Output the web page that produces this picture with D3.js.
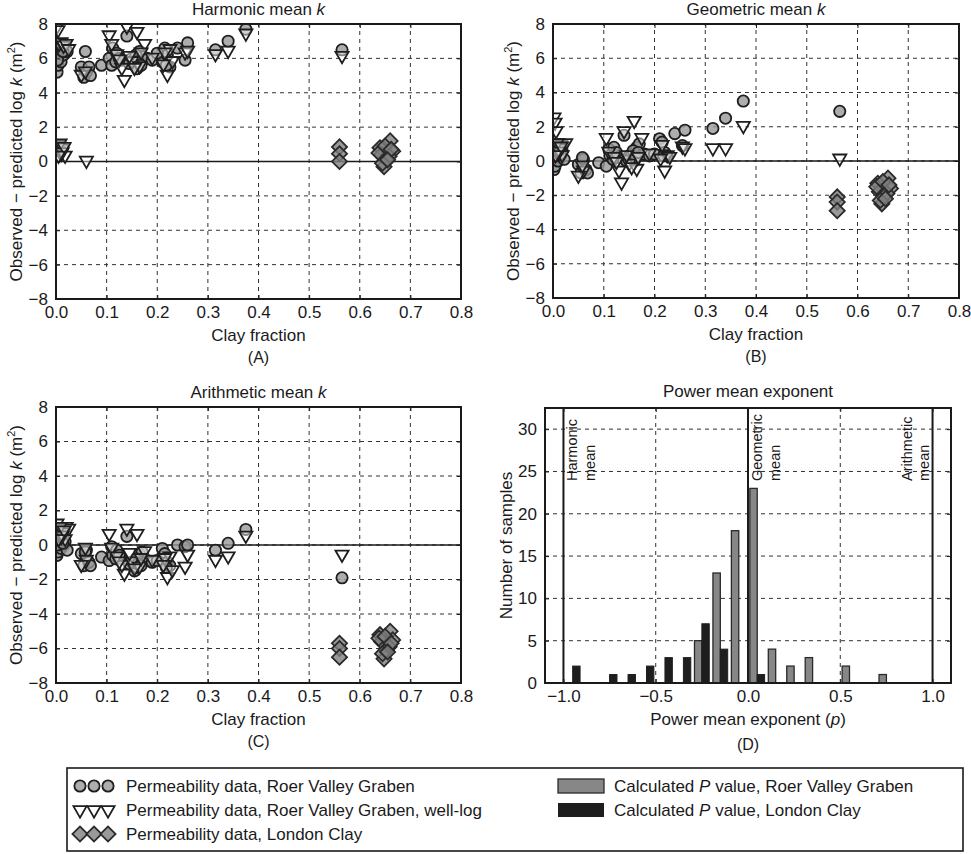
<!DOCTYPE html>
<html><head><meta charset="utf-8">
<script src="https://cdn.jsdelivr.net/npm/d3@7"></script>
<style>
body{margin:0;background:#fff}
svg{display:block}
text{font-family:"Liberation Sans",Arial,Helvetica,sans-serif;fill:#1a1a1a}
</style>
</head><body>
<svg id="c" width="971" height="854"></svg>
<script>
// ---------------- DATA ----------------
// Roer Valley Graben (lab) – circles
const circleClay       = [0.002,0.004,0.006,0.008,0.010,0.012,0.015,0.018,0.022,0.005,0.050,0.055,0.060,0.065,0.068,0.058,0.090,0.105,0.110,0.112,0.120,0.140,0.130,0.150,0.155,0.165,0.170,0.160,0.180,0.190,0.210,0.215,0.220,0.225,0.240,0.255,0.260,0.315,0.340,0.375,0.565,0.003,0.014,0.118,0.125,0.145,0.158,0.162,0.168,0.200,0.218];
const circleHarmonic   = [5.2,5.6,6.0,6.3,5.8,6.5,6.2,6.6,6.4,6.7,5.5,4.9,5.2,5.5,5.0,6.4,5.6,6.0,5.6,6.6,6.3,7.3,5.9,6.0,5.6,6.4,6.1,5.4,6.0,5.9,5.8,6.6,6.2,5.5,6.6,5.9,6.9,6.5,7.0,7.7,6.5,5.9,6.4,5.8,6.0,5.7,6.2,5.8,5.6,6.3,5.6];
const circleGeometric  = [-0.5,-0.3,0.2,0.5,0.0,0.7,0.3,0.6,0.1,0.8,-0.2,-0.7,0.1,-0.5,-0.7,0.2,-0.1,-0.3,0.7,0.3,0.8,1.5,0.2,0.3,0.4,0.8,1.0,0.0,0.4,0.3,1.3,1.1,0.5,0.3,1.6,0.9,1.8,1.9,2.5,3.5,2.9,0.3,0.4,0.1,0.5,0.0,0.6,0.2,0.5,0.4,0.3];
const circleArithmetic = [-0.6,-0.4,0.1,0.3,-0.2,0.5,0.0,0.2,-0.3,0.6,-0.5,-1.2,-0.3,-1.0,-1.2,-0.4,-0.7,-0.9,-0.1,-0.6,-0.3,0.5,-0.8,-1.0,-1.5,-0.5,-0.4,-1.3,-0.9,-1.0,-0.2,-0.5,-1.0,-1.2,0.0,-0.1,0.0,-0.3,0.1,0.9,-1.9,0.0,0.1,-0.8,-0.6,-1.1,-0.8,-1.1,-1.2,-0.9,-1.3];

// Roer Valley Graben (well-log) – down triangles
const triClay       = [0.002,0.004,0.006,0.010,0.015,0.020,0.025,0.003,0.006,0.010,0.013,0.018,0.008,0.060,0.050,0.058,0.105,0.110,0.140,0.135,0.130,0.160,0.175,0.150,0.165,0.120,0.190,0.220,0.225,0.230,0.215,0.255,0.260,0.315,0.340,0.375,0.565,0.012,0.016,0.005,0.145,0.155,0.168,0.125,0.212];
const triHarmonic   = [7.8,7.6,6.8,6.9,6.7,6.8,6.5,0.9,0.6,0.4,0.7,0.3,1.0,0.0,5.0,5.2,7.3,6.8,7.8,4.7,5.4,7.5,6.8,5.8,5.5,6.2,6.0,5.0,6.5,5.8,6.3,6.3,6.4,6.2,6.4,7.4,6.1,0.5,0.8,0.3,6.1,5.4,6.3,5.9,5.6];
const triGeometric  = [2.5,2.2,1.7,1.0,0.9,0.8,1.0,0.9,0.6,0.4,0.7,0.3,1.0,-0.6,-0.9,-0.3,1.3,0.5,1.7,-1.3,-0.6,2.3,1.3,-0.2,-0.5,0.2,0.4,-0.6,0.3,0.2,0.9,0.8,0.7,0.7,0.7,2.0,0.1,0.5,0.8,0.3,0.3,-0.4,0.2,-0.1,0.1];
const triArithmetic = [1.2,1.0,0.8,0.9,0.6,1.0,0.9,0.9,0.6,0.4,0.7,0.3,1.0,-0.9,-1.2,-0.2,0.6,-0.2,0.9,-1.7,-1.2,0.6,-0.4,-1.0,-1.3,-0.7,-0.9,-1.9,-0.7,-1.5,-0.8,-1.3,-0.6,-0.9,-0.7,0.5,-0.6,0.5,0.8,0.3,-0.5,-1.4,-0.8,-1.0,-1.2];

// London Clay – diamonds
const diaClay       = [0.560,0.560,0.560,0.640,0.643,0.648,0.652,0.660,0.665,0.638,0.650,0.658,0.645,0.662,0.655];
const diaHarmonic   = [0.85,0.45,0.0,0.8,0.4,-0.3,0.2,1.2,0.6,0.5,0.9,0.3,-0.1,0.7,0.1];
const diaGeometric  = [-2.1,-2.4,-2.9,-1.3,-1.8,-2.5,-2.0,-1.0,-1.6,-1.5,-1.2,-1.9,-2.3,-1.4,-2.2];
const diaArithmetic = [-5.7,-6.0,-6.5,-5.2,-5.6,-6.6,-6.1,-5.0,-5.5,-5.4,-5.3,-5.9,-6.3,-5.7,-6.2];

// Histogram of power-mean exponent p (bins of width 0.1)
const binStarts     = [-1.0,-0.9,-0.8,-0.7,-0.6,-0.5,-0.4,-0.3,-0.2,-0.1,0.0,0.1,0.2,0.3,0.4,0.5,0.6,0.7,0.8,0.9];
const rvgCounts     = [0,0,0,0,0,0,0,5,13,18,23,4,2,3,0,2,0,1,0,0];
const londonCounts  = [2,0,1,1,2,3,3,7,4,0,1,0,0,0,0,0,0,0,0,0];

// Ticks
const clayTicks  = [0,0.1,0.2,0.3,0.4,0.5,0.6,0.7,0.8];
const residTicks = [-8,-6,-4,-2,0,2,4,6,8];
const pTicks     = [-1.0,-0.5,0.0,0.5,1.0];
const countTicks = [0,5,10,15,20,25,30];
const refLines   = [{p:-1, l1:"Harmonic", l2:"mean", side:1},{p:0, l1:"Geometric", l2:"mean", side:1},{p:1, l1:"Arithmetic", l2:"mean", side:-1}];

// ---------------- DRAW ----------------
const svg = d3.select("#c");
const FS = 17;
const ink = "#1a1a1a";

function grid(g, x, y, xt, yt, x0, x1, y0, y1) {
  g.append("g").selectAll("line").data(xt.filter(v => x(v) > x0 + 1 && x(v) < x1 - 1)).join("line")
    .attr("x1", d => x(d)).attr("x2", d => x(d)).attr("y1", y0).attr("y2", y1)
    .attr("stroke", "#333").attr("stroke-width", 1).attr("stroke-dasharray", "4,4");
  g.append("g").selectAll("line").data(yt.filter(v => y(v) > y1 + 1 && y(v) < y0 - 1)).join("line")
    .attr("y1", d => y(d)).attr("y2", d => y(d)).attr("x1", x0).attr("x2", x1)
    .attr("stroke", "#333").attr("stroke-width", 1).attr("stroke-dasharray", "4,4");
}

function axes(g, x, y, xt, yt, xfmt, yfmt, L, T, R, B) {
  const ax = g.append("g").attr("transform", `translate(0,${B})`)
    .call(d3.axisBottom(x).tickValues(xt).tickFormat(xfmt).tickSize(-4).tickPadding(7));
  const ay = g.append("g").attr("transform", `translate(${L},0)`)
    .call(d3.axisLeft(y).tickValues(yt).tickFormat(yfmt).tickSize(-4).tickPadding(8));
  const at = g.append("g").attr("transform", `translate(0,${T})`)
    .call(d3.axisTop(x).tickValues(xt).tickFormat("").tickSize(-4));
  const ar = g.append("g").attr("transform", `translate(${R},0)`)
    .call(d3.axisRight(y).tickValues(yt).tickFormat("").tickSize(-4));
  [ax, ay, at, ar].forEach(a => {
    a.select(".domain").remove();
    a.selectAll("line").attr("stroke", ink);
    a.selectAll("text").attr("font-size", FS).attr("fill", ink)
      .attr("font-family", '"Liberation Sans",Arial,sans-serif');
  });
  g.append("rect").attr("x", L).attr("y", T).attr("width", R - L).attr("height", B - T)
    .attr("fill", "none").attr("stroke", ink).attr("stroke-width", 2);
}

const circlePath = d3.symbol(d3.symbolCircle, 100)();
const triPath = d3.symbol(d3.symbolTriangle, 75)();
const squarePath = d3.symbol(d3.symbolSquare, 115)();

function drawCircles(g, pts) {
  g.append("g").selectAll("path").data(pts).join("path")
    .attr("d", circlePath).attr("transform", d => `translate(${d[0]},${d[1]})`)
    .attr("fill", "#999").attr("fill-opacity", 0.8).attr("stroke", "#1e1e1e").attr("stroke-width", 1.8);
}
function drawTris(g, pts) {
  g.append("g").selectAll("path").data(pts).join("path")
    .attr("d", triPath).attr("transform", d => `translate(${d[0]},${d[1] - 1}) rotate(180)`)
    .attr("fill", "#fff").attr("fill-opacity", 0.45).attr("stroke", "#1e1e1e").attr("stroke-width", 1.8);
}
function drawDias(g, pts) {
  g.append("g").selectAll("path").data(pts).join("path")
    .attr("d", squarePath).attr("transform", d => `translate(${d[0]},${d[1]}) rotate(45)`)
    .attr("fill", "#808080").attr("fill-opacity", 0.8).attr("stroke", "#2a2a2a").attr("stroke-width", 1.8);
}

function scatterPanel(id, L, T, R, B, titleText, letter, cY, tY, dY) {
  const g = svg.append("g");
  const x = d3.scaleLinear().domain([0, 0.8]).range([L, R]);
  const y = d3.scaleLinear().domain([-8, 8]).range([B, T]);
  grid(g, x, y, clayTicks, residTicks, L, R, B, T);
  g.append("line").attr("x1", L).attr("x2", R).attr("y1", y(0)).attr("y2", y(0))
    .attr("stroke", ink).attr("stroke-width", 1.6);
  const clip = "clip" + id;
  svg.append("clipPath").attr("id", clip).append("rect")
    .attr("x", L).attr("y", T).attr("width", R - L).attr("height", B - T);
  const pg = g.append("g").attr("clip-path", `url(#${clip})`);
  drawCircles(pg, circleClay.map((c, i) => [x(c), y(cY[i])]));
  drawTris(pg, triClay.map((c, i) => [x(c), y(tY[i])]));
  drawDias(pg, diaClay.map((c, i) => [x(c), y(dY[i])]));
  axes(g, x, y, clayTicks, residTicks, d3.format(".1f"), d3.format("d"), L, T, R, B);
  const cx = (L + R) / 2;
  const t = g.append("text").attr("x", cx).attr("y", T - 9).attr("text-anchor", "middle").attr("font-size", FS);
  t.append("tspan").text(titleText + " ");
  t.append("tspan").attr("font-style", "italic").text("k");
  g.append("text").attr("x", cx).attr("y", B + 42).attr("text-anchor", "middle").attr("font-size", FS).text("Clay fraction");
  g.append("text").attr("x", cx).attr("y", B + 64).attr("text-anchor", "middle").attr("font-size", 16).text("(" + letter + ")");
  const yl = g.append("text").attr("transform", `translate(${L - 34},${(T + B) / 2}) rotate(-90)`)
    .attr("text-anchor", "middle").attr("font-size", FS);
  yl.append("tspan").text("Observed \u2212 predicted log ");
  yl.append("tspan").attr("font-style", "italic").text("k");
  yl.append("tspan").text(" (m");
  yl.append("tspan").attr("font-size", 11).attr("dy", -7).text("2");
  yl.append("tspan").attr("dy", 7).text(")");
}

scatterPanel("A", 56, 24, 461, 299, "Harmonic mean", "A", circleHarmonic, triHarmonic, diaHarmonic);
scatterPanel("B", 553, 24, 959, 298, "Geometric mean", "B", circleGeometric, triGeometric, diaGeometric);
scatterPanel("C", 56, 407, 461, 683, "Arithmetic mean", "C", circleArithmetic, triArithmetic, diaArithmetic);

// Panel D histogram
(function () {
  const L = 545, T = 408, R = 951, B = 683;
  const g = svg.append("g");
  const x = d3.scaleLinear().domain([-1.1, 1.1]).range([L, R]);
  const y = d3.scaleLinear().domain([0, 32.5]).range([B, T]);
  grid(g, x, y, pTicks, countTicks, L, R, B, T);
  const bw = x(0.04) - x(0);
  const bars = binStarts.map((s, i) => ({ s, gc: rvgCounts[i], bc: londonCounts[i] }));
  g.append("g").selectAll("rect").data(bars.filter(d => d.gc > 0)).join("rect")
    .attr("x", d => x(d.s + 0.01)).attr("width", bw)
    .attr("y", d => y(d.gc)).attr("height", d => y(0) - y(d.gc))
    .attr("fill", "#878787").attr("stroke", "#2a2a2a").attr("stroke-width", 1.3);
  g.append("g").selectAll("rect").data(bars.filter(d => d.bc > 0)).join("rect")
    .attr("x", d => x(d.s + 0.05)).attr("width", bw)
    .attr("y", d => y(d.bc)).attr("height", d => y(0) - y(d.bc))
    .attr("fill", "#1e1e1e").attr("stroke", "#1e1e1e").attr("stroke-width", 1);
  g.append("g").selectAll("line").data(refLines).join("line")
    .attr("x1", d => x(d.p)).attr("x2", d => x(d.p)).attr("y1", T).attr("y2", B)
    .attr("stroke", ink).attr("stroke-width", 2);
  const lt = g.append("g").selectAll("text").data(refLines).join("text")
    .attr("transform", d => `translate(${d.side > 0 ? x(d.p) + 14 : x(d.p) - 21},481) rotate(-90)`)
    .attr("font-size", 14.5).attr("text-anchor", "start");
  lt.append("tspan").attr("x", 0).attr("y", 0).text(d => d.l1);
  lt.append("tspan").attr("x", 0).attr("dy", 17.5).text(d => d.l2);
  axes(g, x, y, pTicks, countTicks, d3.format(".1f"), d3.format("d"), L, T, R, B);
  const cx = (L + R) / 2;
  g.append("text").attr("x", cx).attr("y", T - 11).attr("text-anchor", "middle").attr("font-size", FS).text("Power mean exponent");
  const xl = g.append("text").attr("x", cx).attr("y", B + 42).attr("text-anchor", "middle").attr("font-size", FS);
  xl.append("tspan").text("Power mean exponent (");
  xl.append("tspan").attr("font-style", "italic").text("p");
  xl.append("tspan").text(")");
  g.append("text").attr("x", cx).attr("y", B + 67).attr("text-anchor", "middle").attr("font-size", 16).text("(D)");
  g.append("text").attr("transform", `translate(${L - 33},${(T + B) / 2}) rotate(-90)`)
    .attr("text-anchor", "middle").attr("font-size", FS).text("Number of samples");
})();

// Legend
(function () {
  const g = svg.append("g");
  g.append("rect").attr("x", 67).attr("y", 768).attr("width", 896).attr("height", 83)
    .attr("fill", "#fff").attr("stroke", ink).attr("stroke-width", 1.6);
  const rows = [786, 810, 834];
  const mx = [80, 94, 108];
  drawCircles(g, mx.map(v => [v, rows[0]]));
  drawTris(g, mx.map(v => [v, rows[1] + 1]));
  drawDias(g, mx.map(v => [v, rows[2]]));
  const labels = ["Permeability data, Roer Valley Graben", "Permeability data, Roer Valley Graben, well-log", "Permeability data, London Clay"];
  g.append("g").selectAll("text").data(labels).join("text")
    .attr("x", 126).attr("y", (d, i) => rows[i] + 6).attr("font-size", FS).text(d => d);
  g.append("rect").attr("x", 558).attr("y", rows[0] - 7).attr("width", 46).attr("height", 14)
    .attr("fill", "#878787").attr("stroke", "#2a2a2a").attr("stroke-width", 1.3);
  g.append("rect").attr("x", 558).attr("y", rows[1] - 7).attr("width", 46).attr("height", 14)
    .attr("fill", "#1e1e1e");
  [["Calculated ", "P", " value, Roer Valley Graben"], ["Calculated ", "P", " value, London Clay"]].forEach((p, i) => {
    const t = g.append("text").attr("x", 614).attr("y", rows[i] + 6).attr("font-size", FS);
    t.append("tspan").text(p[0]);
    t.append("tspan").attr("font-style", "italic").text(p[1]);
    t.append("tspan").text(p[2]);
  });
})();
</script>
</body></html>
